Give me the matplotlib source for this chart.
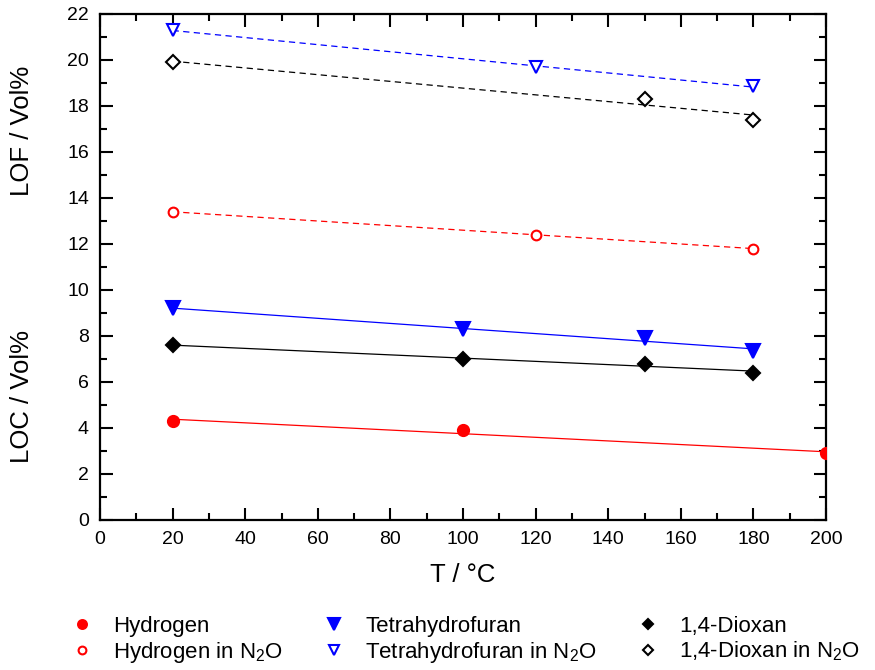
import matplotlib
matplotlib.use('Agg')
import matplotlib.pyplot as plt
import matplotlib.transforms as mtransforms
import numpy as np

plt.rcParams['font.family'] = ['Liberation Sans', 'DejaVu Sans']
plt.rcParams['mathtext.fontset'] = 'custom'
plt.rcParams['mathtext.rm'] = 'Liberation Sans'
plt.rcParams['mathtext.it'] = 'Liberation Sans'

# LOC in air (filled) and LOF in N2O (open), T in degC
h_t = [20, 100, 200]
h_v = [4.3, 3.9, 2.9]
thf_t = [20, 100, 150, 180]
thf_v = [9.2, 8.3, 7.9, 7.35]
dx_t = [20, 100, 150, 180]
dx_v = [7.6, 7.0, 6.8, 6.4]

h_n2o_t = [20, 120, 180]
h_n2o_v = [13.4, 12.4, 11.8]
thf_n2o_t = [20, 120, 180]
thf_n2o_v = [21.3, 19.7, 18.85]
dx_n2o_t = [20, 150, 180]
dx_n2o_v = [19.9, 18.3, 17.4]

series = [
    ('Hydrogen', h_t, h_v, 'red', 'o', True, 8),
    ('Hydrogen in N$_2$O', h_n2o_t, h_n2o_v, 'red', 'o', False, 7),
    ('Tetrahydrofuran', thf_t, thf_v, 'blue', 'v', True, 10),
    ('Tetrahydrofuran in N$_2$O', thf_n2o_t, thf_n2o_v, 'blue', 'v', False, 9),
    ('1,4-Dioxan', dx_t, dx_v, 'black', 'D', True, 7),
    ('1,4-Dioxan in N$_2$O', dx_n2o_t, dx_n2o_v, 'black', 'D', False, 7),
]

fig = plt.figure(figsize=(8.75, 6.7), dpi=100)
ax = fig.add_axes([100 / 875, 1 - 520 / 670, 726 / 875, 506 / 670])

handles = []
for label, t, v, col, mk, filled, ms in series:
    t = np.array(t, dtype=float)
    v = np.array(v, dtype=float)
    k, d = np.polyfit(t, v, 1)
    xs = np.array([t.min(), t.max()])
    ls = '-' if filled else (0, (5, 3.5))
    ax.plot(xs, k * xs + d, color=col, lw=0.9, linestyle=ls, zorder=2)
    h, = ax.plot(t, v, linestyle='none', marker=mk, markersize=ms,
                 markerfacecolor=col if filled else 'white',
                 markeredgecolor=col, markeredgewidth=1.5, zorder=3,
                 label=label)
    handles.append(h)

ax.set_xlim(0, 200)
ax.set_ylim(0, 22)
ax.set_xticks(np.arange(0, 201, 20))
ax.set_xticks(np.arange(0, 201, 10), minor=True)
ax.set_yticks(np.arange(0, 23, 2))
ax.set_yticks(np.arange(0, 23, 1), minor=True)
ax.tick_params(which='both', direction='in', top=True, right=True,
               labelsize=14, width=1.5, pad=8)
ax.tick_params(which='major', length=9)
ax.tick_params(which='minor', length=5)
for s in ax.spines.values():
    s.set_linewidth(1.6)

ax.set_xlabel('T / \u00b0C', fontsize=18.5, labelpad=11)
trans = mtransforms.blended_transform_factory(ax.transAxes, ax.transData)
ax.text(-0.108, 16.9, 'LOF / Vol%', transform=trans, rotation=90,
        ha='center', va='center', fontsize=18.5)
ax.text(-0.108, 5.35, 'LOC / Vol%', transform=trans, rotation=90,
        ha='center', va='center', fontsize=18.5)

fig.legend(handles=handles, ncol=3, loc='upper left',
           bbox_to_anchor=(53 / 875, 1 - 596 / 670), frameon=False,
           fontsize=16, handlelength=0.8, handletextpad=1.0,
           columnspacing=1.9, labelspacing=0.12, markerscale=0.8)

fig.savefig('out.png', dpi=100)
